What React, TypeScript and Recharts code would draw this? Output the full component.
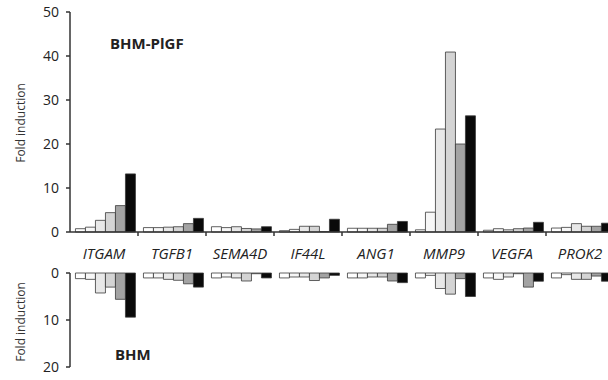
import React from 'react';
import { BarChart, Bar, XAxis, YAxis } from 'recharts';

const genes = ['ITGAM', 'TGFB1', 'SEMA4D', 'IF44L', 'ANG1', 'MMP9', 'VEGFA', 'PROK2'];

// BHM-PlGF panel, one array per condition (bar 1..6 in each gene group)
const plgf1 = [0.75, 1.0, 1.2, 0.3, 0.85, 0.5, 0.4, 0.9];
const plgf2 = [1.1, 1.0, 1.0, 0.6, 0.85, 4.5, 0.75, 1.05];
const plgf3 = [2.65, 1.1, 1.2, 1.3, 0.85, 23.4, 0.5, 1.9];
const plgf4 = [4.4, 1.2, 0.8, 1.3, 0.85, 40.9, 0.75, 1.3];
const plgf5 = [6.0, 1.9, 0.7, 0.1, 1.75, 20.0, 0.9, 1.3];
const plgf6 = [13.2, 3.1, 1.2, 2.9, 2.4, 26.4, 2.2, 2.0];

// BHM panel (drawn downwards)
const bhm1 = [1.2, 1.05, 1.05, 1.05, 1.05, 1.05, 1.05, 1.05];
const bhm2 = [1.35, 1.05, 0.85, 0.85, 1.05, 0.5, 1.35, 0.35];
const bhm3 = [4.25, 1.35, 1.05, 0.85, 0.85, 3.3, 0.85, 1.35];
const bhm4 = [3.0, 1.55, 1.7, 1.6, 0.85, 4.5, 0.15, 1.35];
const bhm5 = [5.6, 2.3, 0.15, 1.05, 1.7, 1.2, 3.0, 0.65];
const bhm6 = [9.4, 3.0, 1.05, 0.5, 2.05, 5.0, 1.75, 1.75];

const topTicks = [0, 10, 20, 30, 40, 50];
const bottomTicks = [0, 10, 20];

const fills = ['#ffffff', '#f7f7f7', '#e8e8e8', '#d4d4d4', '#a3a3a3', '#0a0a0a'];
const keys = ['s1', 's2', 's3', 's4', 's5', 's6'];

const topData = genes.map((gene, i) => ({
  gene,
  s1: plgf1[i], s2: plgf2[i], s3: plgf3[i], s4: plgf4[i], s5: plgf5[i], s6: plgf6[i]
}));
const bottomData = genes.map((gene, i) => ({
  gene,
  s1: bhm1[i], s2: bhm2[i], s3: bhm3[i], s4: bhm4[i], s5: bhm5[i], s6: bhm6[i]
}));

const FONT = '"Open Sans", "Noto Sans", sans-serif';
const AXIS = '#333';
const CHART_W = 614;
const Y_W = 70;
const BAND = (CHART_W - Y_W) / genes.length;

const GeneTick = (props: any) => {
  const { x, y, payload, index } = props;
  return (
    <g>
      {index > 0 && (
        <line x1={x - BAND / 2} x2={x - BAND / 2} y1={y} y2={y + 4} stroke={AXIS} strokeWidth={1.5} />
      )}
      <text
        x={x}
        y={y + 21}
        textAnchor="middle"
        dominantBaseline="central"
        fontStyle="italic"
        fontSize={15}
        fontFamily={FONT}
        fill="#222"
      >
        {payload.value}
      </text>
    </g>
  );
};

const TopTick = (props: any) => {
  const { x, y, index } = props;
  if (index === 0) return <g />;
  return <line x1={x - BAND / 2} x2={x - BAND / 2} y1={y} y2={y - 4} stroke={AXIS} strokeWidth={1.5} />;
};

const yTickStyle = { fontSize: 14, fontFamily: FONT, fill: '#222' };

export default function App() {
  return (
    <div style={{ position: 'absolute', left: 0, top: 0, width: 608, height: 380, overflow: 'hidden', background: '#fff', fontFamily: FONT }}>
      <div style={{ position: 'absolute', left: 0, top: 0 }}>
        <BarChart width={CHART_W} height={262} data={topData} margin={{ top: 12, right: 0, left: 0, bottom: 0 }} barCategoryGap="8%" barGap={0}>
          <XAxis
            dataKey="gene"
            interval={0}
            height={30}
            tickSize={0}
            tickMargin={0}
            tick={<GeneTick />}
            axisLine={{ stroke: AXIS, strokeWidth: 1.5 }}
          />
          <YAxis
            domain={[0, 50]}
            ticks={topTicks}
            width={Y_W}
            tickSize={4}
            tickMargin={7}
            tick={yTickStyle}
            axisLine={{ stroke: AXIS, strokeWidth: 1.5 }}
            tickLine={{ stroke: AXIS, strokeWidth: 1.5 }}
          />
          {keys.map((k, i) => (
            <Bar key={k} dataKey={k} fill={fills[i]} stroke="#3a3a3a" strokeWidth={0.8} isAnimationActive={false} />
          ))}
        </BarChart>
      </div>
      <div style={{ position: 'absolute', left: 0, top: 262 }}>
        <BarChart width={CHART_W} height={118} data={bottomData} margin={{ top: 11, right: 0, left: 0, bottom: 13 }} barCategoryGap="8%" barGap={0}>
          <XAxis
            dataKey="gene"
            orientation="top"
            interval={0}
            height={0}
            tickSize={0}
            tickMargin={0}
            tick={<TopTick />}
            axisLine={{ stroke: AXIS, strokeWidth: 1.5 }}
          />
          <YAxis
            domain={[0, 20]}
            ticks={bottomTicks}
            reversed
            width={Y_W}
            tickSize={4}
            tickMargin={7}
            tick={yTickStyle}
            axisLine={{ stroke: AXIS, strokeWidth: 1.5 }}
            tickLine={{ stroke: AXIS, strokeWidth: 1.5 }}
          />
          {keys.map((k, i) => (
            <Bar key={k} dataKey={k} fill={fills[i]} stroke="#3a3a3a" strokeWidth={0.8} isAnimationActive={false} />
          ))}
        </BarChart>
      </div>
      <div style={{ position: 'absolute', left: 20, top: 123, transform: 'translate(-50%, -50%) rotate(-90deg)', fontSize: 12, color: '#333', whiteSpace: 'nowrap' }}>
        Fold induction
      </div>
      <div style={{ position: 'absolute', left: 20, top: 322, transform: 'translate(-50%, -50%) rotate(-90deg)', fontSize: 12, color: '#333', whiteSpace: 'nowrap' }}>
        Fold induction
      </div>
      <div style={{ position: 'absolute', left: 110, top: 33, fontSize: 15, fontWeight: 700, color: '#222', lineHeight: '20px' }}>
        BHM-PlGF
      </div>
      <div style={{ position: 'absolute', left: 115, top: 344, fontSize: 15, fontWeight: 700, color: '#222', lineHeight: '20px' }}>
        BHM
      </div>
    </div>
  );
}
